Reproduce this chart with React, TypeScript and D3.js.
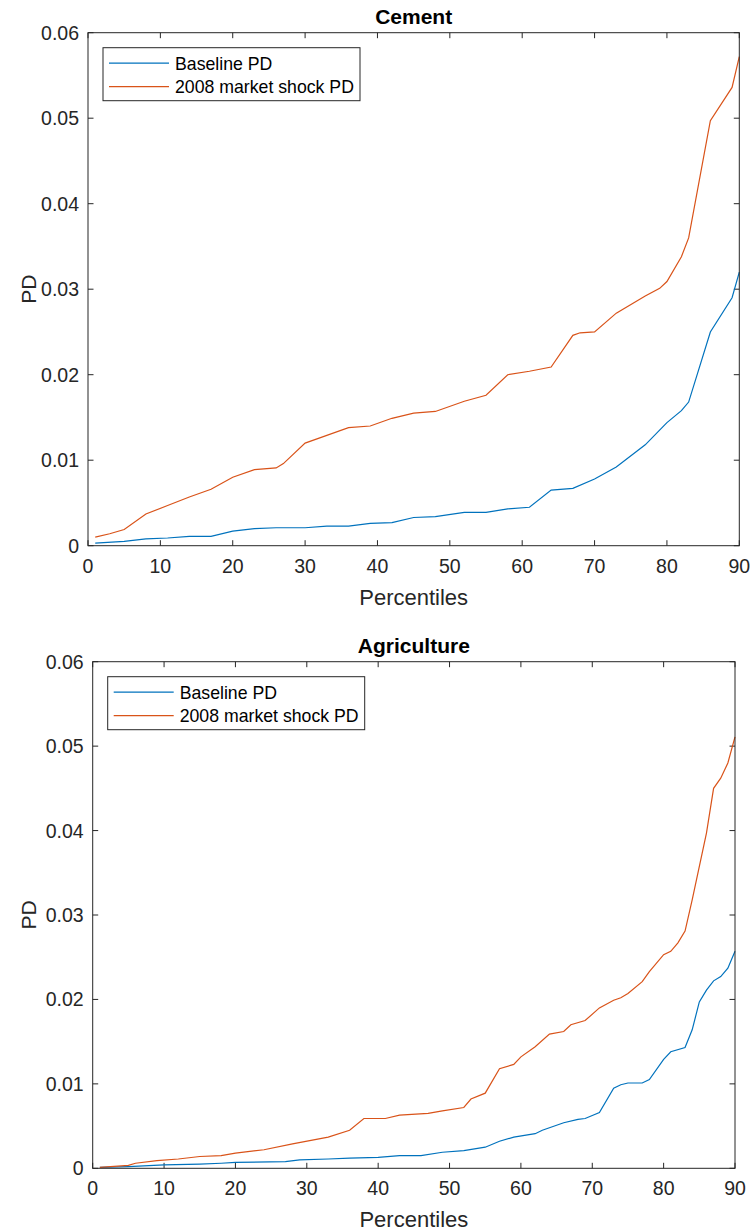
import React from "react";
import { scaleLinear, line } from "d3";

const xTicks = [0, 10, 20, 30, 40, 50, 60, 70, 80, 90];
const yTicks = [0, 0.01, 0.02, 0.03, 0.04, 0.05, 0.06];
const yTickLabels = ["0", "0.01", "0.02", "0.03", "0.04", "0.05", "0.06"];
const seriesNames = ["Baseline PD", "2008 market shock PD"];
const seriesColors = ["#0072BD", "#D95319"];

// Cement panel
const cementBaseX = [1, 5, 8, 11, 14, 17, 20, 23, 26, 30, 33, 36, 39, 42, 45, 48, 52, 55, 58, 61, 64, 67, 70, 73, 77, 80, 82, 83, 86, 89, 90];
const cementBaseY = [0.0003, 0.0005, 0.0008, 0.0009, 0.0011, 0.0011, 0.0017, 0.002, 0.0021, 0.0021, 0.0023, 0.0023, 0.0026, 0.0027, 0.0033, 0.0034, 0.0039, 0.0039, 0.0043, 0.0045, 0.0065, 0.0067, 0.0078, 0.0092, 0.0118, 0.0144, 0.0158, 0.0168, 0.025, 0.029, 0.032];
const cementShockX = [1, 3, 5, 8, 11, 14, 17, 20, 23, 26, 27, 30, 33, 36, 39, 42, 45, 48, 52, 55, 58, 61, 64, 67, 68, 70, 73, 77, 79, 80, 82, 83, 86, 89, 90];
const cementShockY = [0.001, 0.0014, 0.0019, 0.0037, 0.0047, 0.0057, 0.0066, 0.008, 0.0089, 0.0091, 0.0096, 0.012, 0.0129, 0.0138, 0.014, 0.0149, 0.0155, 0.0157, 0.0169, 0.0176, 0.02, 0.0204, 0.0209, 0.0246, 0.0249, 0.025, 0.0272, 0.0292, 0.0301, 0.0309, 0.0338, 0.036, 0.0497, 0.0536, 0.0572];

// Agriculture panel
const agriBaseX = [1, 5, 10, 15, 18, 20, 27, 29, 33, 36, 40, 43, 46, 49, 52, 55, 57, 59, 62, 63, 66, 68, 69, 71, 73, 74, 75, 77, 78, 80, 81, 83, 84, 85, 86, 87, 88, 89, 90];
const agriBaseY = [0.0001, 0.0002, 0.0004, 0.0005, 0.0006, 0.0007, 0.0008, 0.001, 0.0011, 0.0012, 0.0013, 0.0015, 0.0015, 0.0019, 0.0021, 0.0025, 0.0032, 0.0037, 0.0041, 0.0045, 0.0054, 0.0058, 0.0059, 0.0066, 0.0095, 0.0099, 0.0101, 0.0101, 0.0105, 0.0129, 0.0138, 0.0143, 0.0164, 0.0197, 0.0211, 0.0222, 0.0227, 0.0237, 0.0257];
const agriShockX = [1, 5, 6, 9, 12, 15, 18, 20, 24, 28, 33, 36, 38, 41, 43, 47, 49, 52, 53, 55, 57, 59, 60, 62, 64, 66, 67, 69, 71, 73, 74, 75, 77, 78, 80, 81, 82, 83, 84, 86, 87, 88, 89, 90];
const agriShockY = [0.0001, 0.00035, 0.0006, 0.0009, 0.0011, 0.0014, 0.0015, 0.0018, 0.0022, 0.0029, 0.0037, 0.0045, 0.0059, 0.0059, 0.0063, 0.0065, 0.0068, 0.0072, 0.0082, 0.0089, 0.0118, 0.0123, 0.0132, 0.0144, 0.0159, 0.0162, 0.017, 0.0175, 0.019, 0.0199, 0.0202, 0.0207, 0.0221, 0.0233, 0.0253, 0.0257, 0.0267, 0.0281, 0.0318, 0.0397, 0.045, 0.0462, 0.048, 0.0511];

const FONT = "'Liberation Sans', Arial, Helvetica, sans-serif";
const AX = "#262626";

const Panel = ({ title, left, top, right, bottom, xs, ys }) => {
  const x = scaleLinear().domain([0, 90]).range([left, right]);
  const y = scaleLinear().domain([0, 0.06]).range([bottom, top]);
  const path = line()
    .x(d => x(d[0]))
    .y(d => y(d[1]));
  const tl = 5.5;
  const cx = (left + right) / 2;
  const lx = left + 15;
  const ly = top + 15;

  return (
    <g fontFamily={FONT}>
      <text x={cx} y={top - 9} textAnchor="middle" fontSize={21} fontWeight="bold" fill="#000">
        {title}
      </text>
      {xTicks.map(t => (
        <g key={"x" + t}>
          <line x1={x(t)} x2={x(t)} y1={bottom} y2={bottom - tl} stroke={AX} />
          <line x1={x(t)} x2={x(t)} y1={top} y2={top + tl} stroke={AX} />
          <text x={x(t)} y={bottom + 27} textAnchor="middle" fontSize={19.5} fill={AX}>
            {t}
          </text>
        </g>
      ))}
      {yTicks.map((t, i) => (
        <g key={"y" + t}>
          <line x1={left} x2={left + tl} y1={y(t)} y2={y(t)} stroke={AX} />
          <line x1={right} x2={right - tl} y1={y(t)} y2={y(t)} stroke={AX} />
          <text x={left - 9} y={y(t) + 7} textAnchor="end" fontSize={19.5} fill={AX}>
            {yTickLabels[i]}
          </text>
        </g>
      ))}
      {xs.map((xv, i) => (
        <path
          key={"s" + i}
          d={path(xv.map((v, j) => [v, ys[i][j]]))}
          fill="none"
          stroke={seriesColors[i]}
          strokeWidth={1.2}
        />
      ))}
      <rect x={left} y={top} width={right - left} height={bottom - top} fill="none" stroke={AX} strokeWidth={1} />
      <text
        transform={`translate(36,${(top + bottom) / 2}) rotate(-90)`}
        textAnchor="middle"
        fontSize={21}
        fill={AX}
      >
        PD
      </text>
      <text x={cx} y={bottom + 59} textAnchor="middle" fontSize={22} fill={AX}>
        Percentiles
      </text>
      <g>
        <rect x={lx} y={ly} width={257} height={53} fill="#fff" stroke={AX} strokeWidth={1} />
        {seriesNames.map((n, i) => (
          <g key={n}>
            <line
              x1={lx + 6}
              x2={lx + 66}
              y1={ly + 15.5 + i * 23.5}
              y2={ly + 15.5 + i * 23.5}
              stroke={seriesColors[i]}
              strokeWidth={1.2}
            />
            <text x={lx + 72} y={ly + 22 + i * 23.5} fontSize={17.7} fill="#000">
              {n}
            </text>
          </g>
        ))}
      </g>
    </g>
  );
};

export default function App() {
  return (
    <svg
      width={753}
      height={1231}
      style={{ position: "absolute", left: 0, top: 0, background: "#fff" }}
    >
      <rect width={753} height={1231} fill="#fff" />
      <Panel
        title="Cement"
        left={88}
        top={32.7}
        right={739.3}
        bottom={545.7}
        xs={[cementBaseX, cementShockX]}
        ys={[cementBaseY, cementShockY]}
      />
      <Panel
        title="Agriculture"
        left={92.7}
        top={661.7}
        right={735}
        bottom={1168.3}
        xs={[agriBaseX, agriShockX]}
        ys={[agriBaseY, agriShockY]}
      />
    </svg>
  );
}
